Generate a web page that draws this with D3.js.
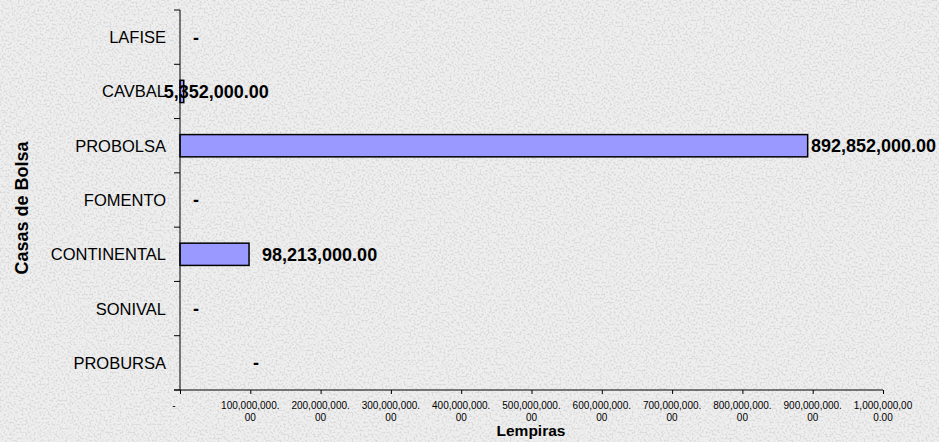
<!DOCTYPE html>
<html>
<head>
<meta charset="utf-8">
<script src="https://cdn.jsdelivr.net/npm/d3@7"></script>
<style>
  body { margin: 0; padding: 0; overflow: hidden; }
  svg { display: block; font-family: Arial, "Liberation Sans", sans-serif; }
</style>
</head>
<body>
<script>
// data
var casas = ['LAFISE', 'CAVBAL', 'PROBOLSA', 'FOMENTO', 'CONTINENTAL', 'SONIVAL', 'PROBURSA'];
var montos = [0, 5352000, 892852000, 0, 98213000, 0, 0];
var xTicks = [0, 100000000, 200000000, 300000000, 400000000, 500000000, 600000000, 700000000, 800000000, 900000000, 1000000000];
var xTickText = [['-'], ['100,000,000.', '00'], ['200,000,000.', '00'], ['300,000,000.', '00'], ['400,000,000.', '00'],
  ['500,000,000.', '00'], ['600,000,000.', '00'], ['700,000,000.', '00'], ['800,000,000.', '00'], ['900,000,000.', '00'], ['1,000,000,00', '0.00']];

var W = 939, H = 442;
var m = {left: 180, top: 10, right: 56, bottom: 52};

var svg = d3.select('body').append('svg').attr('width', W).attr('height', H);

// grey speckled background
var defs = svg.append('defs');
var f = defs.append('filter').attr('id', 'grain').attr('x', 0).attr('y', 0).attr('width', '100%').attr('height', '100%');
f.append('feTurbulence').attr('type', 'fractalNoise').attr('baseFrequency', 0.5).attr('numOctaves', 4).attr('seed', 7).attr('result', 'n');
f.append('feColorMatrix').attr('in', 'n').attr('type', 'matrix')
  .attr('values', '0 0 0 0 0.6  0 0 0 0 0.6  0 0 0 0 0.6  -4.5 0 0 0 2.45');
svg.append('rect').attr('width', W).attr('height', H).attr('fill', '#efefef');
svg.append('rect').attr('width', W).attr('height', H).attr('filter', 'url(#grain)').attr('opacity', 0.55);

var x = d3.scaleLinear().domain([0, 1000000000]).range([m.left, W - m.right]);
var y = d3.scaleBand().domain(casas).range([m.top, H - m.bottom]).paddingInner(0.59).paddingOuter(0.295);

var grp = svg.append('g');

// bars
grp.selectAll('rect.bar').data(casas).enter().append('rect')
  .attr('class', 'bar')
  .attr('x', x(0))
  .attr('y', function(d){ return y(d); })
  .attr('width', function(d, i){ return x(montos[i]) - x(0); })
  .attr('height', y.bandwidth())
  .attr('fill', '#9999ff').attr('stroke', '#000').attr('stroke-width', 1.5)
  .style('display', function(d, i){ return montos[i] > 0 ? null : 'none'; });

// y axis (ticks between categories)
var yEdges = casas.map(function(d){ return y(d) - y.step() * y.paddingInner() / 2; });
yEdges.push(H - m.bottom);
grp.append('line').attr('x1', x(0)).attr('x2', x(0)).attr('y1', m.top).attr('y2', H - m.bottom).attr('stroke', '#000');
grp.selectAll('line.yt').data(yEdges).enter().append('line').attr('class', 'yt')
  .attr('x1', x(0) - 6).attr('x2', x(0)).attr('y1', function(d){ return d; }).attr('y2', function(d){ return d; })
  .attr('stroke', '#000');
grp.selectAll('text.cat').data(casas).enter().append('text').attr('class', 'cat')
  .attr('x', x(0) - 14).attr('y', function(d){ return y(d) + y.bandwidth() / 2; })
  .attr('dy', '0.36em').attr('text-anchor', 'end').attr('font-size', 16.5).attr('fill', '#000')
  .text(function(d){ return d; });

// x axis
var xAxis = d3.axisBottom(x).tickValues(xTicks).tickSize(4).tickFormat('');
var gx = grp.append('g').attr('transform', 'translate(0,' + (H - m.bottom) + ')').call(xAxis);
gx.select('.domain').attr('d', 'M' + (x(0) - 6) + ',0H' + x(1000000000)).attr('stroke', '#000');
gx.selectAll('.tick line').attr('stroke', '#000');
var tl = grp.selectAll('text.xt').data(xTicks).enter().append('text').attr('class', 'xt')
  .attr('text-anchor', 'middle').attr('font-size', 10).attr('fill', '#000')
  .attr('transform', function(d, i){ return 'translate(' + (i === 0 ? x(d) - 6 : x(d)) + ',' + (H - m.bottom + 19) + ')'; });
tl.selectAll('tspan').data(function(d, i){ return xTickText[i]; }).enter().append('tspan')
  .attr('x', 0).attr('dy', function(d, j){ return j === 0 ? 0 : 12; })
  .text(function(d){ return d; });

// value labels
var nudge = {CAVBAL: -33, PROBURSA: 60};
grp.selectAll('text.val').data(casas).enter().append('text').attr('class', 'val')
  .attr('font-size', 18).attr('font-weight', 'bold').attr('fill', '#000').attr('dy', '0.36em')
  .attr('y', function(d){ return y(d) + y.bandwidth() / 2; })
  .text(function(d, i){ return montos[i] > 0 ? d3.format(',.2f')(montos[i]) : '-'; })
  .attr('x', function(d, i){
    var px = x(montos[i]) + 13 + (nudge[d] || 0);
    var w = this.getComputedTextLength();
    return Math.min(px, W - 3 - w);
  });

// axis titles
svg.append('text').attr('x', 531).attr('y', 436).attr('text-anchor', 'middle')
  .attr('font-size', 15.5).attr('font-weight', 'bold').text('Lempiras');
svg.append('text').attr('transform', 'translate(28,208) rotate(-90)').attr('text-anchor', 'middle')
  .attr('font-size', 18).attr('font-weight', 'bold').text('Casas de Bolsa');
</script>
</body>
</html>
